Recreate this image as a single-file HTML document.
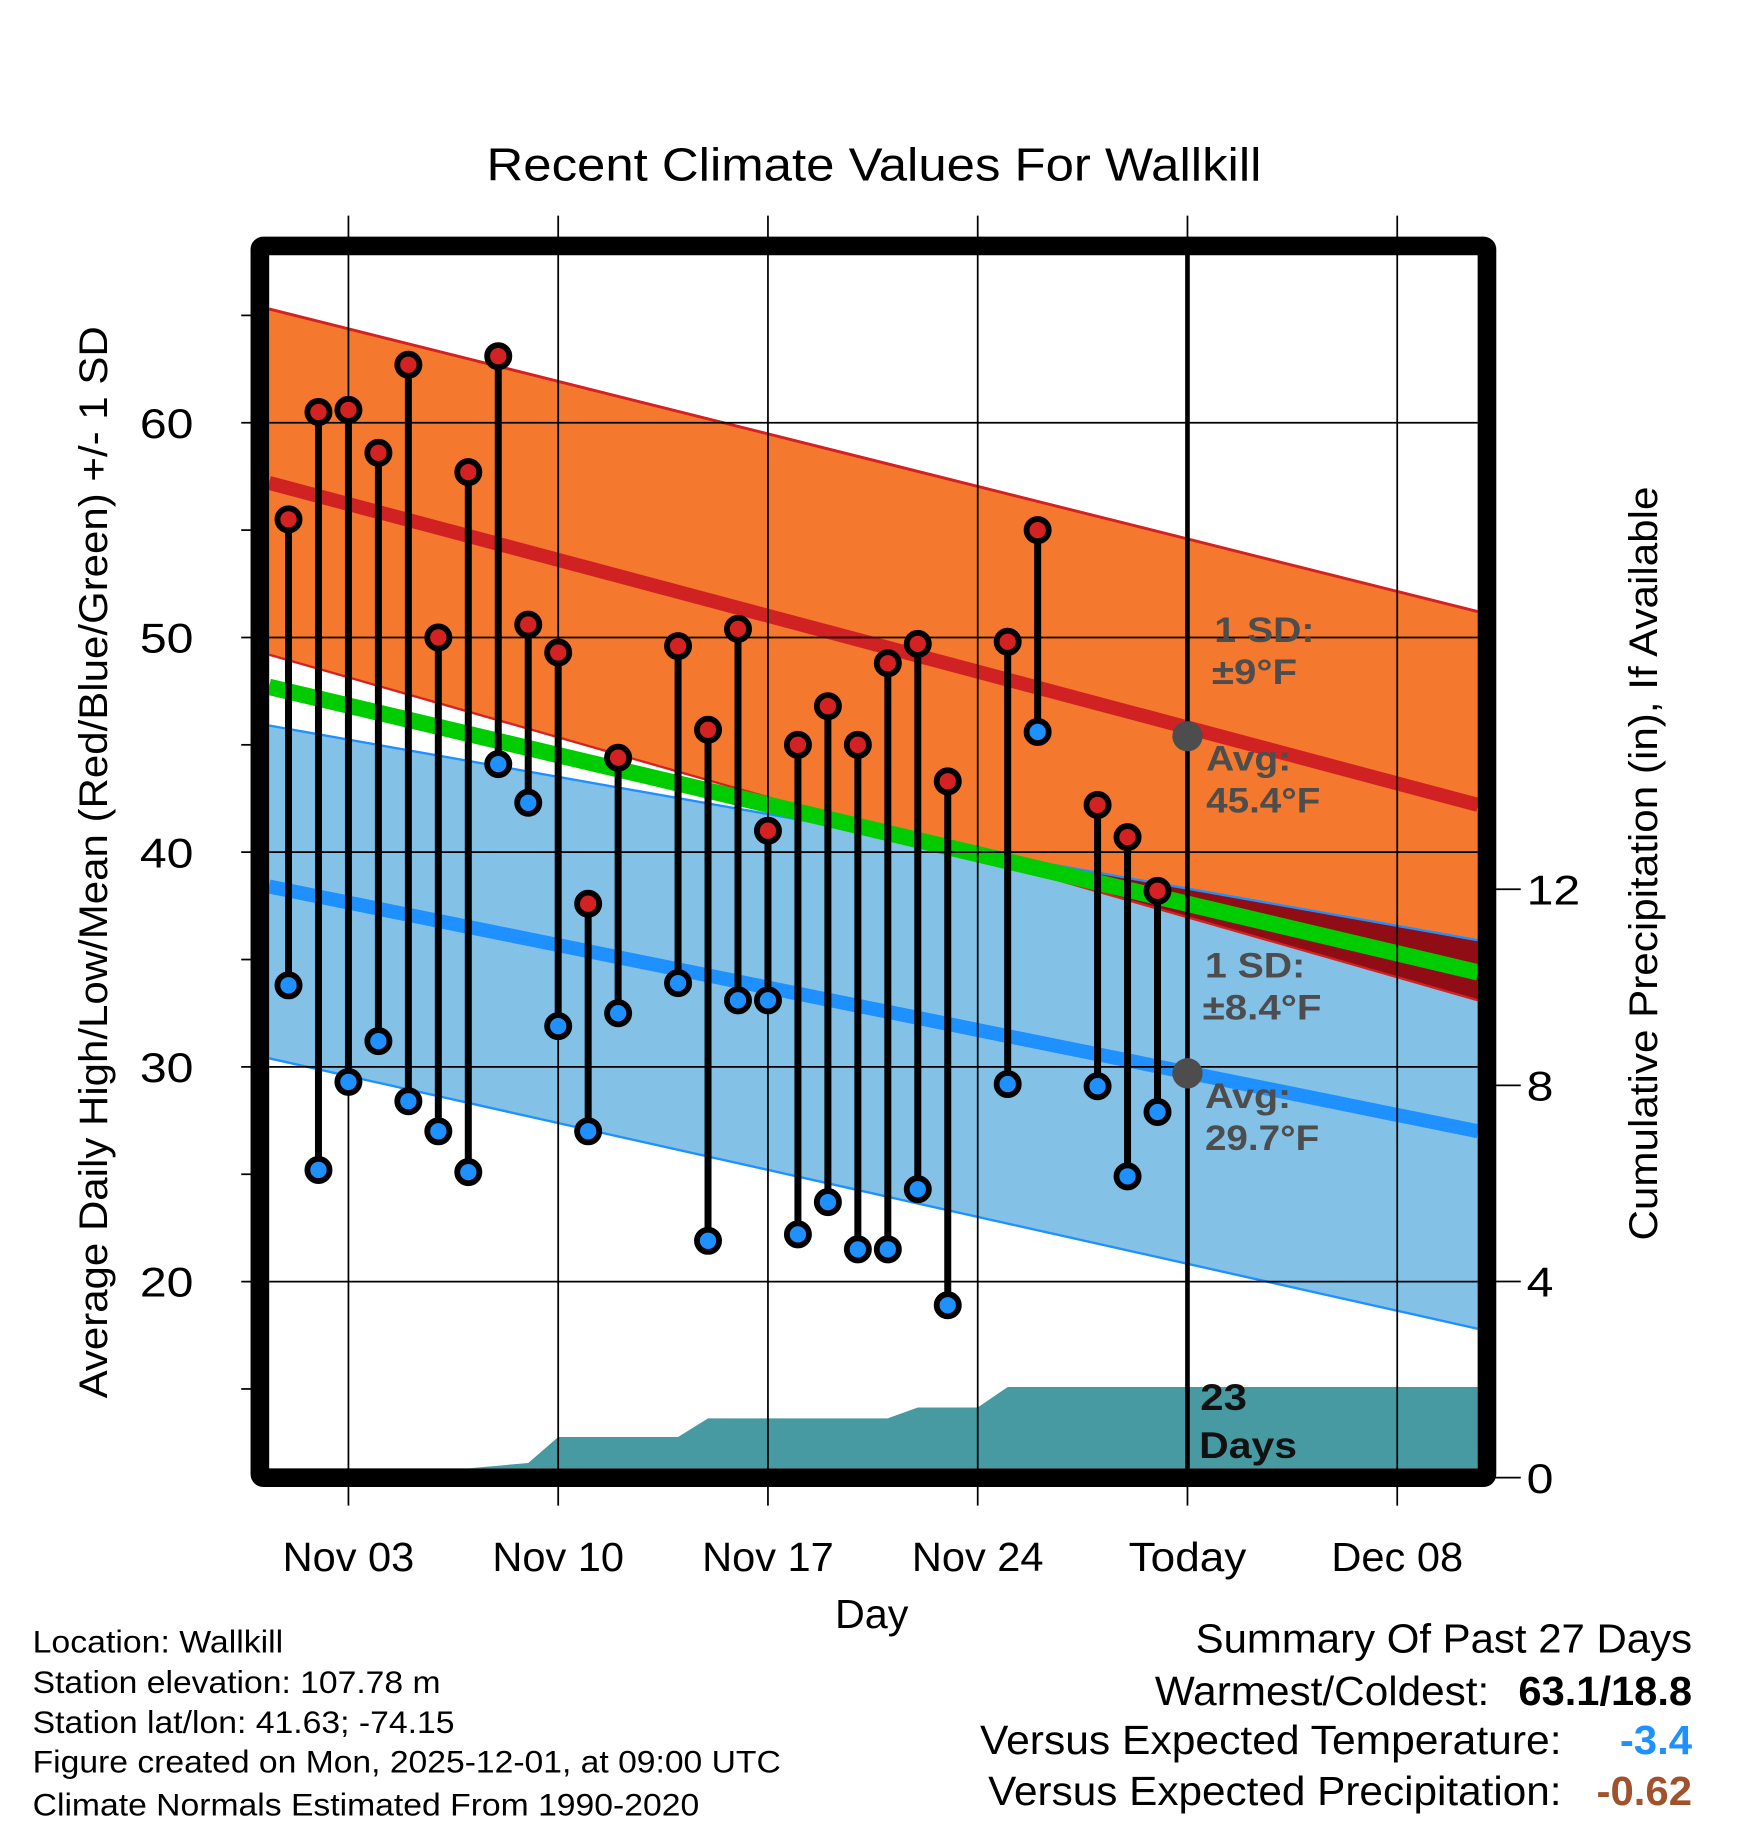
<!DOCTYPE html>
<html><head><meta charset="utf-8"><style>
html,body{margin:0;padding:0;background:#fff;}
svg{display:block;font-family:"Liberation Sans",Arial,sans-serif;}
</style></head><body>
<svg id="chart" width="1748" height="1828" viewBox="0 0 1500 1568.6" xmlns="http://www.w3.org/2000/svg">
<defs><clipPath id="plotclip"><rect x="231" y="218" width="1037" height="1042"/></clipPath></defs>
<g id="bands" clip-path="url(#plotclip)"></g>
<g id="grid"></g>
<g id="marks"></g>
<g id="labels"></g>
</svg>
<script>
// ---- data ----
const days = [1,2,3,4,5,6,7,8,9,10,11,12,14,15,16,17,18,19,20,21,22,23,25,26,28,29,30];
const highs = [55.5,60.5,60.6,58.6,62.7,50.0,57.7,63.1,50.6,49.3,37.6,44.4,49.6,45.7,50.4,41.0,45.0,46.8,45.0,48.8,49.7,43.3,49.8,55.0,42.2,40.7,38.2];
const lows = [33.8,25.2,29.3,31.2,28.4,27.0,25.1,44.1,42.3,31.9,27.0,32.5,33.9,21.9,33.1,33.1,22.2,23.7,21.5,21.5,24.3,18.9,29.2,45.6,29.1,24.9,27.9];
const precipDays = [0.35,6,7,9,10,14,15,21,22,24,25,40.7];
const precipCum = [0,0,0.19,0.3,0.83,0.83,1.21,1.21,1.43,1.43,1.85,1.85];
const normDays = [0.35,40.7];
const highAvg = [57.2,42.2];
const highUpper = [65.3,51.2];
const highLower = [49.2,33.1];
const meanAvg = [47.7,34.4];
const lowAvg = [38.4,27.0];
const lowUpper = [45.9,35.9];
const lowLower = [30.4,17.8];
const tempTicks = [20,30,40,50,60];
const minorTicks = [15,25,35,45,55,65];
const precipTicks = [0,4,8,12];
const dateTicks = [3,10,17,24,31,38];
const dateLabels = ["Nov 03","Nov 10","Nov 17","Nov 24","Today","Dec 08"];
const todayDay = 31;
const todayHigh = 45.4, todayLow = 29.7;

// ---- axes ----
const X = d => 299 + (d-3)*180/7;
const Y = v => 547 - (v-50)*18.425;
const P = p => 1268 - p*42.08;
const NS = "http://www.w3.org/2000/svg";
function mk(parent, tag, attrs){const e=document.createElementNS(NS,tag);for(const k in attrs)e.setAttribute(k,attrs[k]);document.getElementById(parent).appendChild(e);return e;}
function band(up, lo){return `${X(normDays[0])},${Y(up[0])} ${X(normDays[1])},${Y(up[1])} ${X(normDays[1])},${Y(lo[1])} ${X(normDays[0])},${Y(lo[0])}`;}
function line(arr){return `${X(normDays[0])},${Y(arr[0])} ${X(normDays[1])},${Y(arr[1])}`;}

let e;
e=mk('bands','polygon',{points:band(lowUpper,lowLower),fill:'#83c1e7'});


e=mk('bands','polygon',{points:band(highUpper,highLower),fill:'#f4792e'});


mk('bands','clipPath',{id:'lowclip'});
mk('lowclip','polygon',{points:band(lowUpper,lowLower)});
e=mk('bands','polygon',{points:band(highUpper,highLower),fill:'#900d15','clip-path':'url(#lowclip)'});


e=mk('bands','polyline',{points:line(lowUpper),stroke:'#1e90ff','stroke-width':2,fill:'none'});


e=mk('bands','polyline',{points:line(lowLower),stroke:'#1e90ff','stroke-width':2,fill:'none'});


e=mk('bands','polyline',{points:line(highUpper),stroke:'#d42222','stroke-width':2.5,fill:'none'});


e=mk('bands','polyline',{points:line(highLower),stroke:'#d42222','stroke-width':2,fill:'none'});


e=mk('bands','polyline',{points:line(meanAvg),stroke:'#00cc00','stroke-width':14,fill:'none'});


e=mk('bands','polyline',{points:line(highAvg),stroke:'#d02222','stroke-width':12,fill:'none'});


e=mk('bands','polyline',{points:line(lowAvg),stroke:'#1e90ff','stroke-width':12,fill:'none'});


let pp = `${X(precipDays[0])},1260 `;
precipDays.forEach((d,i)=>{pp+=`${X(d)},${Math.min(1260,P(precipCum[i]))} `;});
pp += `${X(precipDays[precipDays.length-1])},1260`;
e=mk('bands','polygon',{points:pp,fill:'#479aa2'});



tempTicks.forEach(v=>{
  e=mk('grid','line',{x1:231,x2:1268,y1:Y(v),y2:Y(v),stroke:'#000','stroke-width':1.5});
  
  
  e=mk('grid','line',{x1:207,x2:223,y1:Y(v),y2:Y(v),stroke:'#000','stroke-width':1.5});
  
  
  e=mk('labels','text',{x:166,y:Y(v)+13,'font-size':36,'text-anchor':'end',textLength:46,lengthAdjust:'spacingAndGlyphs'});
  e.textContent=v;
  
  
});
minorTicks.forEach(v=>{
  e=mk('grid','line',{x1:207,x2:215,y1:Y(v),y2:Y(v),stroke:'#000','stroke-width':1.5});
  
  
});
dateTicks.forEach((d,i)=>{
  e=mk('grid','line',{x1:X(d),x2:X(d),y1:185,y2:1292,stroke:'#000','stroke-width':1.5});
  
  
  e=mk('labels','text',{x:X(d),y:1348,'font-size':35,'text-anchor':'middle',textLength:(dateLabels[i]==='Today'?101:113),lengthAdjust:'spacingAndGlyphs'});
  e.textContent=dateLabels[i];
  
  
});
precipTicks.forEach(p=>{
  e=mk('grid','line',{x1:1283,x2:1305,y1:P(p),y2:P(p),stroke:'#000','stroke-width':1.5});
  
  
  e=mk('labels','text',{x:1310,y:P(p)+13,'font-size':36,textLength:(p>=10?46:23),lengthAdjust:'spacingAndGlyphs'});
  e.textContent=p;
  
  
});
e=mk('grid','line',{x1:X(todayDay),x2:X(todayDay),y1:218,y2:1260,stroke:'#000','stroke-width':4});



days.forEach((d,i)=>{
  e=mk('marks','line',{x1:X(d),x2:X(d),y1:Y(highs[i]),y2:Y(lows[i]),stroke:'#000','stroke-width':6});
  
  
});
days.forEach((d,i)=>{
  e=mk('marks','circle',{cx:X(d),cy:Y(highs[i]),r:9.5,fill:'#d42222',stroke:'#000','stroke-width':5});
  
  
  e=mk('marks','circle',{cx:X(d),cy:Y(lows[i]),r:9.5,fill:'#1e90ff',stroke:'#000','stroke-width':5});
  
  
});
e=mk('marks','circle',{cx:X(todayDay),cy:Y(todayHigh),r:13,fill:'#4d4d4d'});


e=mk('marks','circle',{cx:X(todayDay),cy:Y(todayLow),r:13,fill:'#4d4d4d'});


</script>
<script>
(function(){
const NS="http://www.w3.org/2000/svg",s=document.getElementById('chart');
const r=document.createElementNS(NS,'rect');
r.setAttribute('x',223);r.setAttribute('y',211);r.setAttribute('width',1053);r.setAttribute('height',1057);
r.setAttribute('fill','none');r.setAttribute('stroke','#000');r.setAttribute('stroke-width',16);r.setAttribute('rx',3);


s.appendChild(r);
s.insertAdjacentHTML('beforeend',`
<text x="750" y="155" font-size="40" text-anchor="middle" textLength="665" lengthAdjust="spacingAndGlyphs">Recent Climate Values For Wallkill</text>
<text transform="translate(92,740) rotate(-90)" font-size="34" text-anchor="middle" textLength="920" lengthAdjust="spacingAndGlyphs">Average Daily High/Low/Mean (Red/Blue/Green) +/- 1 SD</text>
<text transform="translate(1422,741) rotate(-90)" font-size="34" text-anchor="middle" textLength="647" lengthAdjust="spacingAndGlyphs">Cumulative Precipitation (in), If Available</text>
<text x="748" y="1397" font-size="35" text-anchor="middle" textLength="63" lengthAdjust="spacingAndGlyphs">Day</text>
<g font-weight="bold" font-size="30" fill="#4d4d4d" lengthAdjust="spacingAndGlyphs">
<text x="1042" y="551" textLength="86" lengthAdjust="spacingAndGlyphs">1 SD:</text><text x="1040" y="587" textLength="73" lengthAdjust="spacingAndGlyphs">±9°F</text>
<text x="1035" y="661" textLength="73" lengthAdjust="spacingAndGlyphs">Avg:</text><text x="1035" y="697" textLength="98" lengthAdjust="spacingAndGlyphs">45.4°F</text>
<text x="1034" y="839" textLength="86" lengthAdjust="spacingAndGlyphs">1 SD:</text><text x="1032" y="875" textLength="102" lengthAdjust="spacingAndGlyphs">±8.4°F</text>
<text x="1034" y="951" textLength="74" lengthAdjust="spacingAndGlyphs">Avg:</text><text x="1034" y="987" textLength="98" lengthAdjust="spacingAndGlyphs">29.7°F</text>
</g>
<g font-weight="bold" font-size="32" fill="#111">
<text x="1030" y="1210" textLength="40" lengthAdjust="spacingAndGlyphs">23</text><text x="1029" y="1251" textLength="84" lengthAdjust="spacingAndGlyphs">Days</text></g>
<g font-size="27">
<text x="28" y="1418" textLength="215" lengthAdjust="spacingAndGlyphs">Location: Wallkill</text>
<text x="28" y="1453" textLength="350" lengthAdjust="spacingAndGlyphs">Station elevation: 107.78 m</text>
<text x="28" y="1487" textLength="362" lengthAdjust="spacingAndGlyphs">Station lat/lon: 41.63; -74.15</text>
<text x="28" y="1521" textLength="642" lengthAdjust="spacingAndGlyphs">Figure created on Mon, 2025-12-01, at 09:00 UTC</text>
<text x="28" y="1558" textLength="572" lengthAdjust="spacingAndGlyphs">Climate Normals Estimated From 1990-2020</text></g>
<g font-size="35">
<text x="1452" y="1418" text-anchor="end" textLength="426" lengthAdjust="spacingAndGlyphs">Summary Of Past 27 Days</text>
<text x="1278" y="1463" text-anchor="end" textLength="287" lengthAdjust="spacingAndGlyphs">Warmest/Coldest:</text>
<text x="1452" y="1463" text-anchor="end" font-weight="bold" textLength="149" lengthAdjust="spacingAndGlyphs">63.1/18.8</text>
<text x="1340" y="1505" text-anchor="end" textLength="499" lengthAdjust="spacingAndGlyphs">Versus Expected Temperature:</text>
<text x="1452" y="1505" text-anchor="end" font-weight="bold" fill="#1e90ff" textLength="62" lengthAdjust="spacingAndGlyphs">-3.4</text>
<text x="1340" y="1549" text-anchor="end" textLength="492" lengthAdjust="spacingAndGlyphs">Versus Expected Precipitation:</text>
<text x="1452" y="1549" text-anchor="end" font-weight="bold" fill="#a0522d" textLength="82" lengthAdjust="spacingAndGlyphs">-0.62</text></g>`);
})();
</script>
</body></html>
